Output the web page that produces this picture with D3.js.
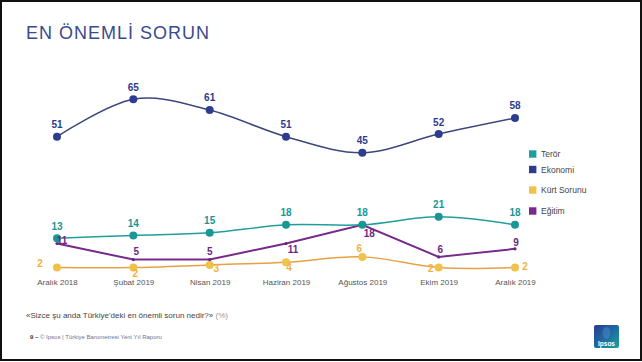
<!DOCTYPE html>
<html>
<head>
<meta charset="utf-8">
<script src="https://cdn.jsdelivr.net/npm/d3@7"></script>
<style>
  html, body { margin: 0; padding: 0; background: #fff; }
  svg { display: block; font-family: "Liberation Sans", Arial, sans-serif; }
</style>
</head>
<body>
<div class="svg-container"></div>
<script>
var months = ["Aralık 2018", "Şubat 2019", "Nisan 2019", "Haziran 2019", "Ağustos 2019", "Ekim 2019", "Aralık 2019"];
var ekonomi = [51, 65, 61, 51, 45, 52, 58];
var teror = [13, 14, 15, 18, 18, 21, 18];
var kurt = [2, 2, 3, 4, 6, 2, 2];
var egitim = [11, 5, 5, 11, 18, 6, 9];
var legendNames = ["Terör", "Ekonomi", "Kürt Sorunu", "Eğitim"];

var width = 642, height = 362;

var svg = d3.select(".svg-container").append("svg")
  .attr("width", width).attr("height", height);

// frame round the slide
svg.append("rect")
  .attr("x", 1).attr("y", 1).attr("width", width - 2).attr("height", height - 3)
  .attr("fill", "#fff").attr("stroke", "#111").attr("stroke-width", 2);

svg.append("text")
  .attr("x", 26).attr("y", 39)
  .attr("font-size", 18).attr("letter-spacing", 1)
  .attr("fill", "#3a4a8c")
  .text("EN ÖNEMLİ SORUN");

var x = d3.scalePoint().domain(months).range([57, 515]);
var y = d3.scaleLinear().domain([0, 65]).range([272.9, 99.3]);

// label offsets (dx, dy) relative to each point, picked by hand to dodge overlaps
var series = [
  { name: "Ekonomi", values: ekonomi, line: "#3a477f", dot: "#2d3c8e", label: "#2d3c8e", r: 4, w: 1.5,
    curve: d3.curveCardinal.tension(0), offs: [[0, -12], [0, -12], [0, -12], [0, -12], [0, -12], [0, -12], [0, -12]] },
  { name: "Terör", values: teror, line: "#1e9f9b", dot: "#1a9693", label: "#1a9693", r: 4, w: 1.5,
    curve: d3.curveCardinal.tension(0), offs: [[0, -12], [0, -12], [0, -12], [0, -12], [0, -12], [0, -12], [0, -12]] },
  { name: "Kürt Sorunu", values: kurt, line: "#eaa042", dot: "#f1c24a", label: "#efb23c", r: 4, w: 1.5,
    curve: d3.curveCardinal.tension(0), offs: [[-17, -4], [2, 5.5], [6.5, 4], [3, 5], [-3, -8.5], [-8, 1], [10, -1.5]] },
  { name: "Eğitim", values: egitim, line: "#772a8a", dot: "#6b2580", label: "#6f2883", r: 1.6, w: 2,
    curve: d3.curveLinear, offs: [[5, -3], [3, -8.5], [0, -8.5], [7, 5.5], [7, 9], [1.5, -7], [1, -6]] }
];

var drawOrder = [series[2], series[3], series[0], series[1]];

drawOrder.forEach(function(s) {
  var pts = s.values.map(function(v, i) { return [x(months[i]), y(v)]; });
  var line = d3.line().curve(s.curve);
  svg.append("path")
    .attr("d", line(pts))
    .attr("fill", "none").attr("stroke", s.line).attr("stroke-width", s.w);
  svg.append("g").selectAll("circle").data(s.values).enter().append("circle")
    .attr("cx", function(d, i) { return x(months[i]); })
    .attr("cy", function(d) { return y(d); })
    .attr("r", s.r).attr("fill", s.dot);
});

drawOrder.forEach(function(s) {
  svg.append("g").selectAll("text").data(s.values).enter().append("text")
    .attr("x", function(d, i) { return x(months[i]) + s.offs[i][0]; })
    .attr("y", function(d, i) { return y(d) + s.offs[i][1]; })
    .attr("text-anchor", "middle").attr("dominant-baseline", "central")
    .attr("font-size", 10).attr("font-weight", "bold")
    .attr("fill", s.label)
    .text(function(d) { return d; });
});

// month labels
var xAxis = d3.axisBottom(x).tickSize(0).tickPadding(0);
var axisG = svg.append("g").attr("transform", "translate(0,279)").call(xAxis);
axisG.select(".domain").remove();
axisG.selectAll("text")
  .attr("font-family", "Liberation Sans, Arial, sans-serif")
  .attr("font-size", 8).attr("fill", "#555");

// legend
var legendColors = { "Terör": "#1e9f9b", "Ekonomi": "#2d3c8e", "Kürt Sorunu": "#f1c24a", "Eğitim": "#772a8a" };
var legendY = [154, 169.5, 190, 211];
var lg = svg.append("g").selectAll("g").data(legendNames).enter().append("g")
  .attr("transform", function(d, i) { return "translate(529," + legendY[i] + ")"; });
lg.append("rect").attr("x", 0).attr("y", -3.7).attr("width", 7.4).attr("height", 7.4)
  .attr("fill", function(d) { return legendColors[d]; });
lg.append("text").attr("x", 12).attr("y", 0).attr("dominant-baseline", "central")
  .attr("font-size", 8.5).attr("fill", "#444")
  .text(function(d) { return d; });

// footnotes
var note = svg.append("text").attr("x", 26).attr("y", 318).attr("font-size", 8).attr("fill", "#444");
note.append("tspan").text("«Sizce şu anda Türkiye'deki en önemli sorun nedir?» ");
note.append("tspan").attr("fill", "#999").text("(%)");

var src = svg.append("text").attr("x", 30).attr("y", 339).attr("font-size", 6).attr("fill", "#6a7396");
src.append("tspan").attr("font-weight", "bold").attr("fill", "#333").text("9 – ");
src.append("tspan").text(" © Ipsos | Türkiye Barometresi Yeni Yıl Raporu");

// Ipsos logo
var defs = svg.append("defs");
var grad = defs.append("linearGradient").attr("id", "ipsosGrad")
  .attr("x1", "0%").attr("y1", "0%").attr("x2", "100%").attr("y2", "100%");
grad.append("stop").attr("offset", "0%").attr("stop-color", "#2b3a92");
grad.append("stop").attr("offset", "55%").attr("stop-color", "#1f6fa0");
grad.append("stop").attr("offset", "100%").attr("stop-color", "#18a59a");
svg.append("rect").attr("x", 594).attr("y", 325).attr("width", 25).attr("height", 23).attr("rx", 2)
  .attr("fill", "url(#ipsosGrad)");
svg.append("ellipse").attr("cx", 606.5).attr("cy", 333).attr("rx", 4).attr("ry", 6)
  .attr("fill", "#3f7fc0").attr("opacity", 0.7);
svg.append("text").attr("x", 606.5).attr("y", 345.5).attr("text-anchor", "middle")
  .attr("font-size", 6.5).attr("font-weight", "bold").attr("fill", "#fff").text("Ipsos");
</script>
</body>
</html>
